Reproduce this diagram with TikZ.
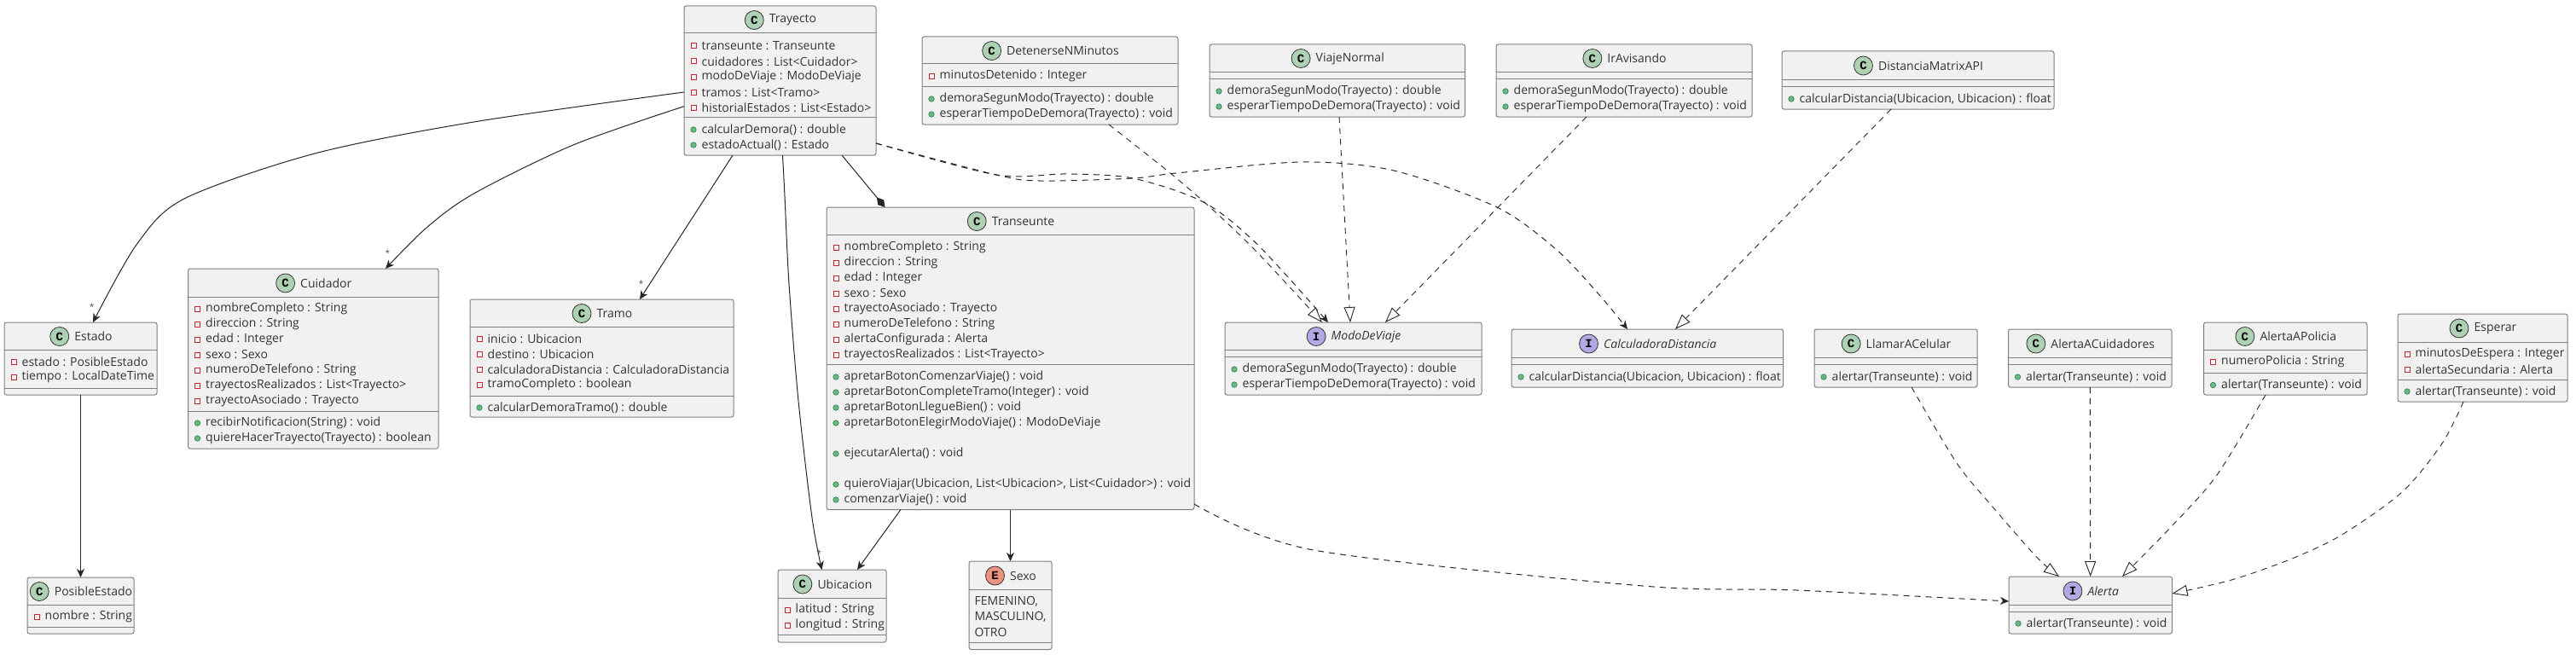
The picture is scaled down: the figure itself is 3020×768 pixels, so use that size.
\documentclass[tikz,border=0pt]{standalone}
\usepackage{fontspec}
\setmainfont{Open Sans}
\setmonofont{Liberation Mono}
\usetikzlibrary{arrows.meta,positioning}
\definecolor{boxfill}{HTML}{F1F1F1}
\definecolor{boxline}{HTML}{7F7F7F}
\definecolor{iconC}{HTML}{ADD1B2}
\definecolor{iconI}{HTML}{B4A7E5}
\definecolor{iconE}{HTML}{EB937F}
\definecolor{privred}{HTML}{C82930}
\definecolor{pubgreen}{HTML}{38A05A}
\tikzset{
  umlbox/.style={draw=boxline,fill=boxfill,line width=1pt,rounded corners=2.5pt,inner sep=0pt,outer sep=0pt},
  umlsep/.style={draw=boxline,line width=1pt},
  umltitle/.style={inner sep=0pt,text=black!80,font=\fontsize{14}{18}\selectfont},
  umlicon/.style={circle,draw=black!80,line width=.8pt,minimum size=22pt,inner sep=0pt,font=\fontsize{14}{14}\selectfont\ttfamily\bfseries},
  rowtext/.style={anchor=west,inner sep=0pt,text=black!80,font=\fontsize{14}{18}\selectfont},
  privmark/.style={rectangle,draw=privred,fill=boxfill,line width=1pt,minimum size=6pt,inner sep=0pt},
  pubmark/.style={circle,draw=pubgreen!80!black,fill=pubgreen!75,line width=.6pt,minimum size=6.5pt,inner sep=0pt},
  assoc/.style={draw=black!85,line width=1pt,-{Stealth[length=10pt,width=9pt,inset=3pt]}},
  usedash/.style={assoc,dash pattern=on 7pt off 6pt},
  realiz/.style={draw=black!85,line width=.9pt,dash pattern=on 7pt off 6pt,-{Triangle[open,fill=white,length=18pt,width=13pt]}},
  compos/.style={draw=black!85,line width=1pt,-{Diamond[length=15pt,width=9pt]}},
  mult/.style={inner sep=0pt,text=black!70,font=\fontsize{10}{10}\selectfont}
}
% id, letter, left, top, right, bottom, header line, member line, title
\newcommand{\umlclass}[9]{
  \node[umlbox,minimum width={(#5-#3)*1pt},minimum height={(#6-#4)*1pt}] (#1) at ({(#3+#5)/2},{(#4+#6)/2}) {};
  \draw[umlsep] (#1.west |- 0,#7) -- (#1.east |- 0,#7);
  \draw[umlsep] (#1.west |- 0,#8) -- (#1.east |- 0,#8);
  \node[umltitle] (#1-title) at ({(#3+#5)/2+15},{(#4+#7)/2+.5}) {#9};
  \node[umlicon,fill=icon#2,left=6pt of #1-title] (#1-icon) {#2};
}
% rows of one compartment: id, mark style, y/text
\newcommand{\umlrows}[3]{
  \foreach \y/\rowtxt in {#3}{
    \node[#2] (#1-m\y) at ([xshift=11pt]#1.west |- 0,\y) {};
    \node[rowtext] (#1-r\y) at ([xshift=20.5pt]#1.west |- 0,\y) {\rowtxt};
  }
}
\begin{document}
\begin{tikzpicture}[x=1pt,y=-1pt]
\useasboundingbox (0,0) rectangle (3020,768);

\umlclass{tray}{C}{802}{7}{1027}{182}{39}{137}{Trayecto}
\umlrows{tray}{privmark}{54/transeunte : Transeunte,72/cuidadores : List<Cuidador>,90/modoDeViaje : ModoDeViaje,108/tramos : List<Tramo>,126/historialEstados : List<Estado>}
\umlrows{tray}{pubmark}{152/calcularDemora() : double,170/estadoActual() : Estado}

\umlclass{dete}{C}{1081}{43}{1381}{146}{75}{101}{DetenerseNMinutos}
\umlrows{dete}{privmark}{89/minutosDetenido : Integer}
\umlrows{dete}{pubmark}{116/demoraSegunModo(Trayecto) : double,134/esperarTiempoDeDemora(Trayecto) : void}

\umlclass{viaje}{C}{1418}{52}{1717.5}{137}{84}{92}{ViajeNormal}
\umlrows{viaje}{pubmark}{107/demoraSegunModo(Trayecto) : double,125/esperarTiempoDeDemora(Trayecto) : void}

\umlclass{avisa}{C}{1754}{52}{2054}{137}{84}{92}{IrAvisando}
\umlrows{avisa}{pubmark}{107/demoraSegunModo(Trayecto) : double,125/esperarTiempoDeDemora(Trayecto) : void}

\umlclass{matrix}{C}{2089}{60}{2408}{128}{93}{101}{DistanciaMatrixAPI}
\umlrows{matrix}{pubmark}{116/{calcularDistancia(Ubicacion, Ubicacion) : float}}

\umlclass{estado}{C}{5}{378}{184}{463}{410}{455}{Estado}
\umlrows{estado}{privmark}{424/estado : PosibleEstado,442/tiempo : LocalDateTime}

\umlclass{posib}{C}{32}{677}{157}{743}{709}{735}{PosibleEstado}
\umlrows{posib}{privmark}{723/nombre : String}

\umlclass{cuida}{C}{220.5}{315}{514}{526}{348}{482}{Cuidador}
\umlrows{cuida}{privmark}{362/nombreCompleto : String,380/direccion : String,398/edad : Integer,416/sexo : Sexo,434/numeroDeTelefono : String,452/trayectosRealizados : List<Trayecto>,470/trayectoAsociado : Trayecto}
\umlrows{cuida}{pubmark}{496/recibirNotificacion(String) : void,514/quiereHacerTrayecto(Trayecto) : boolean}

\umlclass{tramo}{C}{551}{351}{860}{489}{383}{464}{Tramo}
\umlrows{tramo}{privmark}{397/inicio : Ubicacion,415/destino : Ubicacion,433/calculadoraDistancia : CalculadoraDistancia,451/tramoCompleto : boolean}
\umlrows{tramo}{pubmark}{478/calcularDemoraTramo() : double}

\umlclass{trans}{C}{969}{243}{1400}{597.5}{275}{427.5}{Transeunte}
\umlrows{trans}{privmark}{290/nombreCompleto : String,308/direccion : String,326/edad : Integer,344/sexo : Sexo,362/trayectoAsociado : Trayecto,380/numeroDeTelefono : String,398/alertaConfigurada : Alerta,416/trayectosRealizados : List<Trayecto>}
\umlrows{trans}{pubmark}{442/apretarBotonComenzarViaje() : void,460/apretarBotonCompleteTramo(Integer) : void,478/apretarBotonLlegueBien() : void,496/apretarBotonElegirModoViaje() : ModoDeViaje,532/ejecutarAlerta() : void,568/{quieroViajar(Ubicacion, List<Ubicacion>, List<Cuidador>) : void},586/comenzarViaje() : void}

\umlclass{ubica}{C}{912}{668}{1039}{753}{701}{744}{Ubicacion}
\umlrows{ubica}{privmark}{715/latitud : String,733/longitud : String}

\umlclass{sexo}{E}{1136}{658}{1233}{761.5}{691}{753}{Sexo}
\node[rowtext] (sexo-a) at ([xshift=6.5pt]sexo.west |- 0,705) {FEMENINO,};
\node[rowtext] (sexo-b) at ([xshift=6.5pt]sexo.west |- 0,723) {MASCULINO,};
\node[rowtext] (sexo-c) at ([xshift=6.5pt]sexo.west |- 0,741) {OTRO};

\umlclass{modo}{I}{1436}{378}{1737}{463}{410}{418}{\textit{ModoDeViaje}}
\umlrows{modo}{pubmark}{433/demoraSegunModo(Trayecto) : double,451/esperarTiempoDeDemora(Trayecto) : void}

\umlclass{calc}{I}{1772}{386}{2090.5}{454}{419}{427}{\textit{CalculadoraDistancia}}
\umlrows{calc}{pubmark}{442/{calcularDistancia(Ubicacion, Ubicacion) : float}}

\umlclass{llama}{C}{2127}{386}{2318}{454}{419}{427}{LlamarACelular}
\umlrows{llama}{pubmark}{442/alertar(Transeunte) : void}

\umlclass{acuid}{C}{2354.5}{386}{2546}{454}{419}{427}{AlertaACuidadores}
\umlrows{acuid}{pubmark}{442/alertar(Transeunte) : void}

\umlclass{apoli}{C}{2583.5}{378}{2775}{463}{410}{437}{AlertaAPolicia}
\umlrows{apoli}{privmark}{424/numeroPolicia : String}
\umlrows{apoli}{pubmark}{451.5/alertar(Transeunte) : void}

\umlclass{esper}{C}{2811}{368}{3010}{471}{401}{445}{Esperar}
\umlrows{esper}{privmark}{415/minutosDeEspera : Integer,433/alertaSecundaria : Alerta}
\umlrows{esper}{pubmark}{459/alertar(Transeunte) : void}

\umlclass{alerta}{I}{2355}{676}{2546.5}{743}{709}{717}{\textit{Alerta}}
\umlrows{alerta}{pubmark}{731/alertar(Transeunte) : void}

% plain associations
\draw[assoc] plot[smooth] coordinates {(tray.west |- 0,108) (555.5,143) (369,180) (216,233) (160,287) (estado.north -| 109,0)};
\draw[assoc] plot[smooth] coordinates {(tray.west |- 0,124.7) (672,170) (555.5,227) (500,267) (cuida.north -| 452,0)};
\draw[assoc] (tray.south -| 859,0) -- (tramo.north -| 750,0);
\draw[assoc] plot[smooth] coordinates {(tray.south -| 917.5,0) (920,230) (925,333) (936,470) (952,607) (ubica.north -| 963.5,0)};
\draw[compos] (tray.south -| 987,0) -- (trans.north -| 1037.5,0);
\draw[assoc] (estado) -- (posib);
\draw[assoc] (trans.south -| 1056,0) -- (ubica.north -| 1005,0);
\draw[assoc] (trans.south -| 1184.5,0) -- (sexo.north -| 1184.5,0);

\node[mult] (m-estado) at (107.7,360) {*};
\node[mult] (m-cuida) at (454.5,297) {*};
\node[mult] (m-tramo) at (751.6,332.7) {*};
\node[mult] (m-ubica) at (960,649) {*};

% dependencies
\draw[usedash] plot[smooth] coordinates {(tray.east |- 0,168) (1168,205) (1251,204) (1328,209) (1411,237) (1474.5,287) (modo.north -| 1557,0)};
\draw[usedash] plot[smooth] coordinates {(tray.east |- 0,168) (1168,205) (1219,212) (1328,209) (1379,203) (1525,190) (1634,200) (1755,243) (1825,293) (1876,347) (calc.north -| 1908,0)};
\draw[usedash] plot[smooth] coordinates {(trans.east |- 0,591) (1540,645) (1926,687) (2106,692) (alerta.west |- 0,705)};

% realizations
\draw[realiz] plot[smooth] coordinates {(dete.south -| 1300,0) (1372,203) (1423,247) (1475,297) (modo.north -| 1550,0)};
\draw[realiz] (viaje.south -| 1570,0) -- (modo.north -| 1583,0);
\draw[realiz] (avisa.south -| 1860,0) -- (modo.north -| 1624,0);
\draw[realiz] (matrix.south -| 2217,0) -- (calc.north -| 1964,0);
\draw[realiz] plot[smooth] coordinates {(llama.south -| 2241,0) (2294,543) (2335,593) (2387.5,653) (alerta.north -| 2414,0)};
\draw[realiz] (acuid) -- (alerta);
\draw[realiz] plot[smooth] coordinates {(apoli.south -| 2656,0) (2599,557) (2546,617) (alerta.north -| 2488,0)};
\draw[realiz] plot[smooth] coordinates {(esper.south -| 2888,0) (2863,520) (2816,577) (2745.5,627) (2687,655) (2616,680) (alerta.east |- 0,696)};
\end{tikzpicture}
\end{document}
